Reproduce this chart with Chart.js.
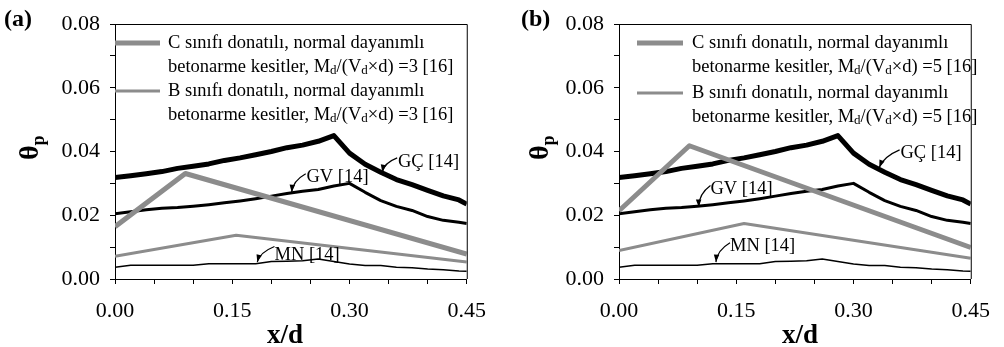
<!DOCTYPE html>
<html lang="tr">
<head>
  <meta charset="UTF-8">
  <title>θp - x/d</title>
  <script src="https://cdn.jsdelivr.net/npm/chart.js"></script>
  <style>
    body {
      margin: 0;
      background: #fff;
      width: 1004px;
      height: 347px;
      overflow: hidden;
    }
    .panel {
      position: absolute;
      top: 0;
      height: 347px;
    }
    #panelA { left: 0; width: 500px; }
    #panelB { left: 500px; width: 504px; }
  </style>
</head>
<body>

  <div class="panel" id="panelA"><canvas id="chartA" width="500" height="347"></canvas></div>
  <div class="panel" id="panelB"><canvas id="chartB" width="504" height="347"></canvas></div>

  <script>
    // x/d noktaları (GÇ, GV, MN egrileri icin ortak)
    const xPoints = [0, 0.02, 0.04, 0.06, 0.08, 0.10, 0.12, 0.14, 0.16, 0.18, 0.20, 0.22,
                     0.24, 0.26, 0.28, 0.30, 0.32, 0.34, 0.36, 0.38, 0.40, 0.42, 0.44, 0.45];
    const gcValues = [0.0318, 0.0324, 0.0330, 0.0337, 0.0347, 0.0354, 0.0361, 0.0372, 0.0380, 0.0390,
                      0.0400, 0.0412, 0.0420, 0.0432, 0.0450, 0.0395, 0.0360, 0.0335, 0.0312, 0.0296,
                      0.0278, 0.0261, 0.0248, 0.0235];
    const gvValues = [0.0205, 0.0211, 0.0217, 0.0222, 0.0224, 0.0228, 0.0233, 0.0239, 0.0245, 0.0252,
                      0.0260, 0.0268, 0.0275, 0.0281, 0.0292, 0.0300, 0.0272, 0.0246, 0.0228, 0.0215,
                      0.0196, 0.0184, 0.0178, 0.0174];
    const mnValues = [0.0037, 0.0043, 0.0043, 0.0043, 0.0043, 0.0043, 0.0048, 0.0048, 0.0048, 0.0048,
                      0.0055, 0.0056, 0.0057, 0.0063, 0.0055, 0.0047, 0.0042, 0.0042, 0.0037, 0.0035,
                      0.0031, 0.0029, 0.0025, 0.0024];

    // [16] dogrulari
    const cXA = [0, 0.09, 0.45];
    const cValuesA = [0.0164, 0.0331, 0.0078];
    const bXA = [0, 0.155, 0.45];
    const bValuesA = [0.0071, 0.0137, 0.0053];

    const cXB = [0, 0.09, 0.45];
    const cValuesB = [0.0214, 0.0418, 0.0099];
    const bXB = [0, 0.16, 0.45];
    const bValuesB = [0.0089, 0.0174, 0.0065];

    const xTickLabels = ['0.00', '0.15', '0.30', '0.45'];
    const yTickLabels = ['0.00', '0.02', '0.04', '0.06', '0.08'];

    const GRAY = '#8c8c8c';
    const SERIF = '"Liberation Serif", "Times New Roman", serif';

    function pts(xs, ys) {
      return xs.map((x, i) => ({ x: x, y: ys[i] }));
    }

    // alt indisli metin parcalari: [metin, altindis mi]
    function drawParts(ctx, parts, x, y, size) {
      let cx = x;
      parts.forEach(p => {
        if (p[1]) {
          ctx.font = Math.round(size * 0.68) + 'px ' + SERIF;
          ctx.fillText(p[0], cx, y + size * 0.22);
        } else {
          ctx.font = size + 'px ' + SERIF;
          ctx.fillText(p[0], cx, y);
        }
        cx += ctx.measureText(p[0]).width;
      });
    }

    function arrow(ctx, sx, sy, tx, ty, bend) {
      const mx = (sx + tx) / 2 + bend[0];
      const my = (sy + ty) / 2 + bend[1];
      ctx.beginPath();
      ctx.moveTo(sx, sy);
      ctx.quadraticCurveTo(mx, my, tx, ty);
      ctx.strokeStyle = '#000';
      ctx.lineWidth = 1.2;
      ctx.stroke();
      const ang = Math.atan2(ty - my, tx - mx);
      ctx.beginPath();
      ctx.moveTo(tx, ty);
      ctx.lineTo(tx - 8 * Math.cos(ang - 0.35), ty - 8 * Math.sin(ang - 0.35));
      ctx.lineTo(tx - 8 * Math.cos(ang + 0.35), ty - 8 * Math.sin(ang + 0.35));
      ctx.closePath();
      ctx.fillStyle = '#000';
      ctx.fill();
    }

    const decorPlugin = {
      id: 'decor',
      afterDraw(chart) {
        const o = chart.options.plugins.decor;
        const ctx = chart.ctx;
        const a = chart.chartArea;
        const xs = chart.scales.x, ys = chart.scales.y;
        ctx.save();

        // cerceve (ust ve sag)
        ctx.strokeStyle = '#000';
        ctx.lineWidth = 1;
        ctx.beginPath();
        ctx.moveTo(a.left - 5, a.top + 0.5);
        ctx.lineTo(a.right + 0.5, a.top + 0.5);
        ctx.lineTo(a.right + 0.5, a.bottom);
        ctx.stroke();

        // panel etiketi
        ctx.fillStyle = '#000';
        ctx.textBaseline = 'alphabetic';
        ctx.textAlign = 'left';
        ctx.font = 'bold 24px ' + SERIF;
        ctx.fillText(o.panel, o.panelX, 26);

        // eksen basliklari
        ctx.font = 'bold 27px ' + SERIF;
        ctx.textAlign = 'center';
        ctx.fillText('x/d', o.xTitleX, 343);

        ctx.save();
        ctx.translate(o.yTitleX, 160);
        ctx.rotate(-Math.PI / 2);
        ctx.textAlign = 'left';
        ctx.font = 'bold 28px ' + SERIF;
        ctx.fillText('θ', 0, 0);
        const w = ctx.measureText('θ').width;
        ctx.font = 'bold 18px ' + SERIF;
        ctx.fillText('p', w, 6);
        ctx.restore();

        // lejant
        ctx.textAlign = 'left';
        ctx.textBaseline = 'middle';
        o.legend.forEach(item => {
          ctx.strokeStyle = GRAY;
          ctx.lineWidth = item.width;
          ctx.beginPath();
          ctx.moveTo(o.legX0, item.y);
          ctx.lineTo(o.legX1, item.y);
          ctx.stroke();
          ctx.fillStyle = '#000';
          drawParts(ctx, [[item.line1, false]], o.legTextX, item.y, 18.5);
          drawParts(ctx, [['betonarme kesitler, M', false], ['d', true], ['/(V', false], ['d', true],
                          ['×d) =' + o.ratio + ' [16]', false]], o.legTextX, item.y + 24, 18.5);
        });

        // egri isimleri ve oklar
        ctx.textBaseline = 'middle';
        o.notes.forEach(n => {
          const tx = xs.getPixelForValue(n.text[0]);
          const ty = ys.getPixelForValue(n.text[1]);
          ctx.fillStyle = '#000';
          ctx.font = '18.5px ' + SERIF;
          ctx.fillText(n.label, tx, ty);
          arrow(ctx, xs.getPixelForValue(n.from[0]), ys.getPixelForValue(n.from[1]),
                xs.getPixelForValue(n.to[0]), ys.getPixelForValue(n.to[1]), n.bend);
        });
        ctx.restore();
      }
    };

    function makeChart(id, cX, cV, bX, bV, decor, yWidth, padRight) {
      const ctx = document.getElementById(id).getContext('2d');
      return new Chart(ctx, {
        type: 'line',
        data: {
          datasets: [
            { label: 'C sınıfı donatılı', data: pts(cX, cV), borderColor: GRAY, borderWidth: 5 },
            { label: 'B sınıfı donatılı', data: pts(bX, bV), borderColor: GRAY, borderWidth: 3 },
            { label: 'GÇ [14]', data: pts(xPoints, gcValues), borderColor: '#000', borderWidth: 5 },
            { label: 'GV [14]', data: pts(xPoints, gvValues), borderColor: '#000', borderWidth: 3 },
            { label: 'MN [14]', data: pts(xPoints, mnValues), borderColor: '#000', borderWidth: 1.5 }
          ]
        },
        options: {
          responsive: false,
          animation: false,
          layout: { padding: { top: 24, right: padRight, left: 0, bottom: 0 } },
          elements: {
            point: { radius: 0 },
            line: { tension: 0, borderJoinStyle: 'round', fill: false }
          },
          scales: {
            x: {
              type: 'linear',
              min: 0,
              max: 0.45,
              afterFit(s) { s.height = 68; },
              grid: { drawOnChartArea: false, tickLength: 5, color: '#000' },
              border: { color: '#000', width: 1 },
              ticks: {
                stepSize: 0.05,
                autoSkip: false,
                maxRotation: 0,
                padding: 14,
                color: '#000',
                font: { family: SERIF, size: 22 },
                callback: v => {
                  const k = Math.round(v * 100);
                  return k % 15 === 0 ? xTickLabels[k / 15] : '';
                }
              }
            },
            y: {
              min: 0,
              max: 0.08,
              afterFit(s) { s.width = yWidth; },
              grid: { drawOnChartArea: false, tickLength: 5, color: '#000' },
              border: { color: '#000', width: 1 },
              ticks: {
                stepSize: 0.01,
                autoSkip: false,
                padding: 10,
                color: '#000',
                font: { family: SERIF, size: 22 },
                callback: v => {
                  const k = Math.round(v * 100);
                  return k % 2 === 0 ? yTickLabels[k / 2] : '';
                }
              }
            }
          },
          plugins: {
            legend: { display: false },
            tooltip: { enabled: false },
            decor: decor
          }
        },
        plugins: [decorPlugin]
      });
    }

    makeChart('chartA', cXA, cValuesA, bXA, bValuesA, {
      panel: '(a)', panelX: 4, xTitleX: 285, yTitleX: 38, ratio: 3,
      legX0: 115, legX1: 160, legTextX: 168,
      legend: [
        { y: 43, width: 5, line1: 'C sınıfı donatılı, normal dayanımlı' },
        { y: 91, width: 3, line1: 'B sınıfı donatılı, normal dayanımlı' }
      ],
      notes: [
        { label: 'GÇ [14]', text: [0.362, 0.0367], from: [0.361, 0.0380], to: [0.342, 0.0335], bend: [-6, -2] },
        { label: 'GV [14]', text: [0.245, 0.0320], from: [0.244, 0.0330], to: [0.226, 0.0272], bend: [-6, -2] },
        { label: 'MN [14]', text: [0.204, 0.0075], from: [0.204, 0.0102], to: [0.182, 0.0053], bend: [-6, -2] }
      ]
    }, 115, 27);

    makeChart('chartB', cXB, cValuesB, bXB, bValuesB, {
      panel: '(b)', panelX: 21, xTitleX: 300, yTitleX: 48, ratio: 5,
      legX0: 137, legX1: 183, legTextX: 192,
      legend: [
        { y: 43, width: 5, line1: 'C sınıfı donatılı, normal dayanımlı' },
        { y: 93, width: 3, line1: 'B sınıfı donatılı, normal dayanımlı' }
      ],
      notes: [
        { label: 'GÇ [14]', text: [0.360, 0.0395], from: [0.359, 0.0405], to: [0.333, 0.0350], bend: [-6, -2] },
        { label: 'GV [14]', text: [0.117, 0.0283], from: [0.117, 0.0293], to: [0.102, 0.0226], bend: [-6, -2] },
        { label: 'MN [14]', text: [0.142, 0.0102], from: [0.142, 0.0114], to: [0.124, 0.0053], bend: [-6, -2] }
      ]
    }, 119, 28);
  </script>

</body>
</html>
